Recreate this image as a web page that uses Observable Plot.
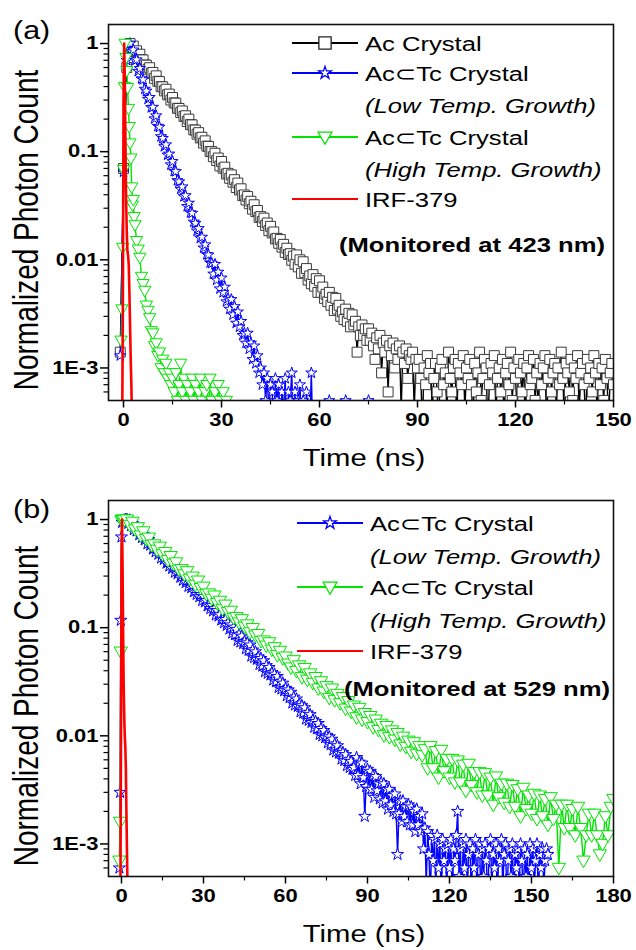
<!DOCTYPE html>
<html><head><meta charset="utf-8">
<script src="https://cdn.jsdelivr.net/npm/d3@7"></script>
<script src="https://cdn.jsdelivr.net/npm/@observablehq/plot@0.6"></script>
<style>
body{margin:0;background:#fff;}
#chart{width:636px;height:950px;}
svg{display:block;}
</style></head><body><div id="chart"></div>
<script>
// ---------- texts and ticks ----------
const panelLabels = ["(a)", "(b)"];
const monitorLabels = ["(Monitored at 423 nm)", "(Monitored at 529 nm)"];
const xTitle = "Time (ns)";
const yTitle = "Normalized Photon Count";
const seriesNames = ["Ac Crystal", "Ac\u2282Tc Crystal", "Ac\u2282Tc Crystal", "IRF-379"];
const seriesNotes = ["", "(Low Temp. Growth)", "(High Temp. Growth)", ""];
const yTickValues = [1, 0.1, 0.01, 0.001];
const yTickLabels = ["1", "0.1", "0.01", "1E-3"];
const yMinorTicks = [0.0006, 0.0007, 0.0008, 0.0009, 0.002, 0.003, 0.004, 0.005, 0.006, 0.007, 0.008, 0.009,
  0.02, 0.03, 0.04, 0.05, 0.06, 0.07, 0.08, 0.09, 0.2, 0.3, 0.4, 0.5, 0.6, 0.7, 0.8, 0.9];
const xTicksA = [0, 30, 60, 90, 120, 150];
const xMinorA = [15, 45, 75, 105, 135];
const xTicksB = [0, 30, 60, 90, 120, 150, 180];
const xMinorB = [15, 45, 75, 105, 135, 165];

// ---------- photon counts, each segment: [start ns, channel ns, counts] ----------
// Panel (a), monitored at 423 nm
const acRiseA = [-1, 1, [14, 700, 6000]];
const acDecayA = [2, 0.5, [
  10000, 9170, 9480, 8450, 8570, 7550, 7970, 7100, 7060, 6340, 6310, 5790, 5980, 5330, 5410, 4760, 5030, 4480, 4450, 4000,
  3980, 3650, 3780, 3360, 3410, 3000, 3170, 2830, 2810, 2520, 2510, 2300, 2380, 2120, 2150, 1900, 2000, 1780, 1770, 1590,
  1585, 1450, 1500, 1340, 1360, 1200, 1260, 1125, 1120, 1005,
  1000, 898, 967, 827, 874, 738, 812, 702, 720, 621, 631, 567, 610, 522, 551, 466, 513, 443, 454, 392,
  398, 357, 385, 330, 348, 294, 323, 279, 286, 247, 251, 226, 243, 208, 219, 186, 204, 177, 181, 156,
  158, 142, 154, 131, 139, 117, 128, 112, 114, 99,
  108, 91, 111, 86, 100, 75, 96, 76, 83, 65, 71, 60, 73, 57, 67, 50, 64, 50, 56, 44, 48, 41, 50, 38, 45, 34, 44, 35,
  38, 30, 33, 28, 35, 27, 32, 24, 31, 25, 27, 14, 24, 20, 25, 20, 23, 18, 23, 18, 21, 16,
  12, 19, 15, 20, 9, 17, 14, 18, 6, 16, 13, 17, 10, 15, 12, 16, 4, 14, 11, 15, 8, 13, 12, 14, 4, 12, 10]];
const acTailA = [90.5, 0.5, [
  12, 8, 3, 10, 7, 13, 9, 11, 4, 8, 11, 6, 3, 10, 12, 7, 9, 4, 14, 8, 6, 10, 12, 3, 11, 9, 7, 13, 4, 10,
  8, 12, 7, 3, 11, 6, 9, 14, 5, 8, 12, 10, 3, 7, 11, 9, 13, 4, 8, 10, 6, 12, 3, 9, 11, 7, 14, 5, 10, 8,
  4, 12, 9, 6, 11, 3, 10, 13, 7, 8, 12, 5, 9, 4, 11, 7, 10, 13, 3, 8, 12, 6, 9, 11, 4, 10, 7, 14, 8, 3,
  11, 9, 6, 12, 5, 10, 8, 13, 4, 9, 11, 7, 3, 12, 8, 10, 6, 13, 9, 4, 11, 7, 10, 5, 12, 8, 3, 9, 11, 7]];
const lowRiseA = [-1, 1, [13, 650, 7000]];
const lowDecayA = [2, 0.5, [
  10000, 8410, 8740, 7020, 7080, 5550, 5890, 4730, 4640, 3790, 3640, 3060, 3180, 2560, 2580, 2020, 2150, 1720, 1690, 1380,
  1330, 1116, 1160, 933, 953, 757, 813, 661, 656, 542, 528, 450, 474, 385, 393, 312, 335, 273, 270, 224,
  218, 185, 195, 159, 162, 129, 138, 112, 111, 94, 93, 74, 91, 65, 77, 54, 68, 50, 56, 41,
  44, 35, 43, 31, 37, 26, 33, 24, 27, 20, 21, 17, 21, 15, 17, 12, 16, 11, 13, 9, 10,
  7, 9, 5, 8, 4, 7, 6, 3, 8, 5, 7, 3, 6, 4, 8, 2, 6, 5, 9, 3, 6, 2, 5, 7, 3, 5, 2, 6, 4, 3, 9, 2, 4, 3, 2, 4, 1, 3,
  2, 4, 1, 5, 2, 1, 3, 2, 4, 1, 3, 2, 1, 5, 2, 1, 3, 2, 1, 3, 2, 1, 2, 3, 1, 4, 2, 5]];
const highTempAFast = [-0.75, 0.25, [18, 35, 130, 680, 4000, 10000, 7400, 5600, 3900, 2500, 1700, 1200, 870, 470, 320, 360, 250]];
const highTempASlow = [3.5, 0.5, [210, 150, 125, 105, 70, 60, 52, 38, 34, 29, 22, 21, 16, 17, 13, 14, 10, 12, 9, 11,
  8, 9, 7, 8, 6, 9, 5, 7, 11, 6, 8, 5, 7, 4, 6, 8, 5, 7, 4, 6, 8, 5, 3, 6, 7, 4, 8, 5, 3, 6, 4, 7, 5, 3, 6, 4, 5, 3]];
const irfA = [-0.6, 0.2, [2, 3, 40, 3000, 10000, 4500, 1100, 350, 180, 120, 110, 90, 50, 25, 12, 7, 3, 2]];

// Panel (b), monitored at 529 nm
const lowTempBFast = [-0.75, 0.25, [6, 30, 1170, 6900, 9400, 9700]];
const lowTempBSlow = [1, 0.5, [9900, 9950,
  10000, 9220, 9880, 8770, 9210, 8080, 8840, 7850, 8080, 7230, 7390, 6810, 7300, 6480, 6810, 5970, 6530, 5800, 5970, 5340,
  5460, 5030, 5390, 4780, 5030, 4410, 4820, 4280, 4410, 3950, 4030, 3720, 3980, 3530, 3710, 3260, 3560, 3160, 3260, 2920,
  2980, 2750, 2940, 2610, 2740, 2410, 2630, 2340, 2410, 2150, 2200, 2030, 2180, 1930, 2030, 1780, 1950, 1730, 1780, 1590,
  1630, 1500, 1610, 1430, 1500, 1310, 1440, 1280, 1320, 1180, 1200, 1110, 1190, 1050, 1110, 971, 1060,
  891, 1012, 861, 965, 763, 869, 737, 836, 712, 747, 638, 725, 617, 691, 546, 622, 528, 598, 510, 535,
  457, 519, 442, 495, 392, 446, 379, 428, 365, 383, 328, 372, 316, 354, 280, 319, 271, 307, 261, 274,
  235, 266, 226, 253, 201, 228, 193, 219, 187, 196, 167, 190, 162, 182, 143, 163, 139, 157, 133, 140,
  120, 136, 116, 130, 103, 117, 100, 112, 96, 100, 86, 98, 83, 93, 74, 84, 71, 81, 69, 72, 61, 70, 59, 67, 53, 60, 51, 58, 49, 51,
  43, 63, 43, 57, 36, 56, 41, 18, 34, 49, 32, 47, 32, 43, 27, 42, 31, 36, 26, 37, 24, 36, 25, 32, 21, 32, 23, 28, 20, 29,
  19, 8, 19, 25, 16, 25, 18, 22, 16, 23, 15, 22, 15, 20, 13, 21, 15, 18, 13, 19,
  9, 14, 4, 13, 8, 3, 12, 7, 11, 4, 12, 6, 10, 3, 11, 7, 9, 4, 10, 6, 11, 3, 9, 7, 12, 20, 5, 9, 3, 10,
  6, 11, 4, 8, 10, 3, 9, 6, 11, 4, 8, 10, 3, 9, 5, 10, 7, 3, 9, 11, 4, 8, 6, 10, 3, 9, 7, 11, 4, 8,
  10, 3, 7, 9, 5, 10, 3, 8, 6, 9, 4, 10, 7, 3, 9, 5, 8, 3, 10, 6, 9, 4, 7, 10, 3, 8, 6, 9, 4, 7, 9, 8]];
const highTempBFast = [-0.75, 0.25, [7, 16, 600, 9800, 10000, 9900]];
const highTempBSlow = [1, 1, [9900,
  10000, 8910, 9530, 8100, 8480, 7120, 7770, 6610, 6790, 5820, 5880, 5240, 5600, 4760, 5000, 4200, 4580, 3900, 4010, 3440,
  3470, 3100, 3320, 2820, 2960, 2490, 2720, 2320, 2390, 2050, 2070, 1850, 1980, 1690, 1770, 1490, 1630, 1390, 1430, 1230,
  1250, 1115, 1195, 1020, 1070, 903, 989, 845, 872, 750, 760, 681, 731, 625, 658, 556, 610, 521, 540, 465,
  428, 499, 398, 447, 348, 423, 329, 377, 308, 349, 273, 319, 256, 287, 224, 273, 213, 244, 200, 228,
  178, 209, 167, 190, 148, 181, 141, 162, 134, 152, 120, 141, 113, 129, 101, 123, 97, 112, 92, 106,
  83, 98, 79, 90, 71, 87, 68, 80, 66, 75, 50, 80, 50, 72, 41, 74, 47, 61, 41, 61, 37, 59, 37, 54, 31, 55, 35, 46, 30, 46,
  28, 45, 28, 41, 23, 42, 27, 36, 24, 36, 22, 35, 22, 32, 18, 33, 21, 28, 19, 29, 17, 28, 18, 26, 15, 27, 17, 23, 6, 23,
  14, 23, 14, 21, 12, 22, 14, 7, 12, 19, 12, 19, 12, 8, 10, 18, 12, 22, 26]];
const irfB = [-0.6, 0.2, [2, 3, 60, 4000, 10000, 3500, 900, 300, 150, 100, 80, 50, 20, 9, 4, 2]];

// ---------- helpers ----------
function normalized(...segments) {
  const out = [];
  for (const [t0, dt, counts] of segments) counts.forEach((c, i) => out.push({t: t0 + i * dt, c}));
  const m = d3.max(out, d => d.c);
  return out.map(d => ({t: d.t, v: d.c / m}));
}
const triangleDown = {
  draw(context, size) {
    const r = Math.sqrt(size / Math.PI);
    context.moveTo(-1.15 * r, -0.8 * r);
    context.lineTo(1.15 * r, -0.8 * r);
    context.lineTo(0, 1.2 * r);
    context.closePath();
  }
};
const BLACK = "#000000", BLUE = "#0000ff", GREEN = "#00e400", RED = "#ff0000";
const FONT = "'Liberation Sans', Arial, 'DejaVu Sans', sans-serif";
const yLabelOf = new Map(yTickValues.map((v, i) => [v, yTickLabels[i]]));

function makePanel(cfg) {
  const marks = [];
  for (const s of cfg.series) {
    marks.push(Plot.line(s.rows, {x: "t", y: "v", stroke: s.color, strokeWidth: s.lw, clip: true}));
    if (s.symbol) marks.push(Plot.dot(s.rows, {x: "t", y: "v", symbol: s.symbol, r: s.r, stroke: s.symStroke,
      strokeWidth: 1, fill: "white", clip: true}));
  }
  marks.push(
    Plot.axisY({ticks: yMinorTicks, tickSize: 4.5, tickFormat: () => "", strokeWidth: 1.2, label: null}),
    Plot.axisY({ticks: yTickValues, tickSize: 8, tickPadding: 2, tickFormat: d => yLabelOf.get(d),
      fontSize: 18, fontWeight: "bold", strokeWidth: 1.5, label: null}),
    Plot.axisX({ticks: cfg.xMinor, tickSize: 4.5, tickFormat: () => "", strokeWidth: 1.2, label: null}),
    Plot.axisX({ticks: cfg.xTicks, tickSize: 7.5, tickPadding: 5, fontSize: 18, fontWeight: "bold",
      strokeWidth: 1.5, label: null}),
    Plot.frame({stroke: "#111", strokeWidth: 1.6})
  );
  return Plot.plot({
    width: 636, height: 475,
    marginLeft: 108, marginRight: 23, marginTop: cfg.mt, marginBottom: 475 - cfg.mt - 376,
    x: {domain: cfg.xDomain, label: null},
    y: {type: "log", domain: [5e-4, 1.5], label: null},
    style: {fontFamily: FONT, background: "white", overflow: "visible", color: "#000"},
    marks
  });
}

function decorate(svgNode, cfg) {
  const svg = d3.select(svgNode);
  const g = svg.append("g").attr("font-family", FONT).attr("fill", "#000").attr("text-anchor", "start");
  g.append("text").text(cfg.panel).attr("x", 13).attr("y", cfg.panelY).attr("font-size", 25)
    .attr("text-anchor", "start");
  g.append("text").attr("class", "ytitle").text(yTitle).attr("font-size", 28).attr("text-anchor", "middle")
    .attr("transform", `translate(37.5,${cfg.yTitleY}) scale(1.22,1) rotate(-90)`);
  g.append("text").text(xTitle).attr("x", 364).attr("y", cfg.mt + 376 + 66).attr("font-size", 24)
    .attr("text-anchor", "middle");
  for (const e of cfg.legend) {
    g.append("line").attr("x1", cfg.lx0).attr("x2", cfg.lx1).attr("y1", e.y).attr("y2", e.y)
      .attr("stroke", e.color).attr("stroke-width", 2);
    if (e.path) g.append("path").attr("d", e.path).attr("transform", `translate(${cfg.sx},${e.y})`)
      .attr("fill", "white").attr("stroke", e.symStroke).attr("stroke-width", 1.3);
    g.append("text").text(e.name).attr("x", cfg.tx).attr("y", e.y).attr("dy", "0.36em").attr("font-size", 21)
      .attr("text-anchor", "start");
    if (e.note) g.append("text").text(e.note).attr("x", cfg.tx).attr("y", e.y + cfg.noteGap).attr("dy", "0.36em")
      .attr("font-size", 21).attr("font-style", "italic").attr("text-anchor", "start");
  }
  g.append("text").text(cfg.monitor).attr("x", cfg.monX).attr("y", cfg.monY).attr("dy", "0.36em")
    .attr("font-size", 21).attr("font-weight", "bold").attr("text-anchor", "end");
}

function stretchTexts(svgNode, s) {
  svgNode.querySelectorAll("text").forEach(t => {
    if (t.classList.contains("ytitle")) return;
    const bb = t.getBBox();
    const anchor = getComputedStyle(t).textAnchor;
    const px = anchor === "end" ? bb.x + bb.width : anchor === "middle" ? bb.x + bb.width / 2 : bb.x;
    const tr = t.getAttribute("transform") || "";
    t.setAttribute("transform", `${tr} translate(${px},0) scale(${s},1) translate(${-px},0)`);
  });
}

const squarePath = d3.symbol(d3.symbolSquare, 150)();
const starPath = d3.symbol(d3.symbolStar, 50)();
const triPath = d3.symbol(triangleDown, Math.PI * 36)();

// ---------- panel (a) ----------
const svgA = makePanel({
  mt: 24, xDomain: [-4.6, 150], xTicks: xTicksA, xMinor: xMinorA,
  series: [
    {rows: normalized(acRiseA, acDecayA, acTailA), color: BLACK, lw: 1.4, symbol: "square", r: 5.6, symStroke: "#3a3a3a"},
    {rows: normalized(lowRiseA, lowDecayA), color: BLUE, lw: 1.4, symbol: "star", r: 3.5, symStroke: BLUE},
    {rows: normalized(highTempAFast, highTempASlow), color: GREEN, lw: 1.4, symbol: triangleDown, r: 5.3, symStroke: GREEN},
    {rows: normalized(irfA), color: RED, lw: 2.6}
  ]
});
// ---------- panel (b) ----------
const svgB = makePanel({
  mt: 25, xDomain: [-4.75, 180], xTicks: xTicksB, xMinor: xMinorB,
  series: [
    {rows: normalized(lowTempBFast, lowTempBSlow), color: BLUE, lw: 1.4, symbol: "star", r: 3.8, symStroke: BLUE},
    {rows: normalized(highTempBFast, highTempBSlow), color: GREEN, lw: 1.4, symbol: triangleDown, r: 5.8, symStroke: GREEN},
    {rows: normalized(irfB), color: RED, lw: 2.6}
  ]
});

const chart = document.getElementById("chart");
chart.appendChild(svgA);
chart.appendChild(svgB);

decorate(svgA, {
  panel: panelLabels[0], panelY: 39, yTitleY: 230, mt: 24, monitor: monitorLabels[0], monX: 605, monY: 244,
  lx0: 292, lx1: 358, sx: 325, tx: 365, noteGap: 32,
  legend: [
    {y: 43, color: BLACK, path: squarePath, symStroke: "#222", name: seriesNames[0], note: seriesNotes[0]},
    {y: 73, color: BLUE, path: starPath, symStroke: BLUE, name: seriesNames[1], note: seriesNotes[1]},
    {y: 137, color: GREEN, path: triPath, symStroke: GREEN, name: seriesNames[2], note: seriesNotes[2]},
    {y: 199, color: RED, name: seriesNames[3], note: seriesNotes[3]}
  ]
});
decorate(svgB, {
  panel: panelLabels[1], panelY: 43, yTitleY: 231, mt: 25, monitor: monitorLabels[1], monX: 610, monY: 213,
  lx0: 297, lx1: 363, sx: 330, tx: 370, noteGap: 33,
  legend: [
    {y: 48, color: BLUE, path: starPath, symStroke: BLUE, name: seriesNames[1], note: seriesNotes[1]},
    {y: 112, color: GREEN, path: triPath, symStroke: GREEN, name: seriesNames[2], note: seriesNotes[2]},
    {y: 176, color: RED, name: seriesNames[3], note: seriesNotes[3]}
  ]
});
stretchTexts(svgA, 1.22);
stretchTexts(svgB, 1.22);
</script></body></html>
